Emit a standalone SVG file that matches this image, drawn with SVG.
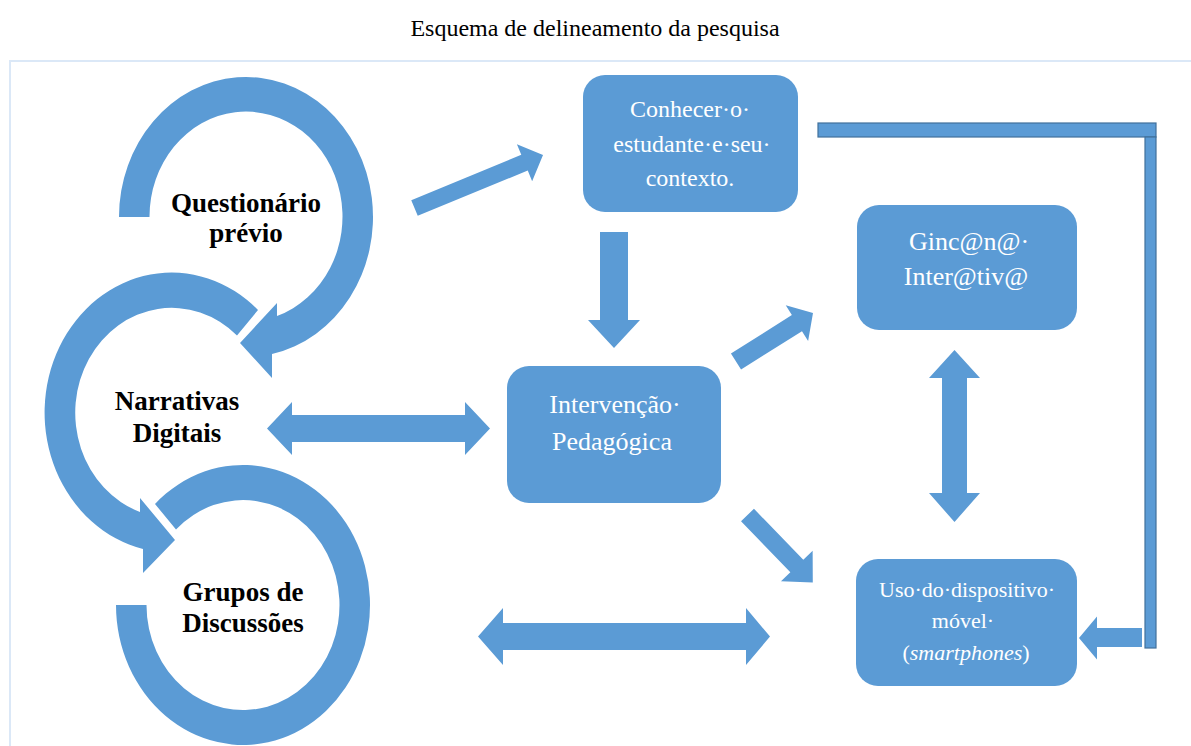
<svg xmlns="http://www.w3.org/2000/svg" width="1191" height="746" viewBox="0 0 1191 746">
<defs>
<style>
.fill{fill:#5b9bd5}
.bar{fill:#5b9bd5;stroke:#41719c;stroke-width:1.2}
.lbl{font-family:"Liberation Serif","Times New Roman",serif;font-weight:bold;font-size:27px;fill:#000;text-anchor:middle}
.box{font-family:"Liberation Serif","Times New Roman",serif;fill:#fff;text-anchor:middle}
.b26{font-size:26px}
.b24{font-size:24px}
.b22{font-size:22px}
.title{font-family:"Liberation Serif","Times New Roman",serif;font-size:24px;fill:#000;text-anchor:middle}
</style>
</defs>
<rect width="1191" height="746" fill="#fff"/>
<text class="title" x="595" y="36">Esquema de delineamento da pesquisa</text>
<rect x="10" y="61" width="1200" height="700" fill="none" stroke="#dbe8f7" stroke-width="2"/>

<g id="questionario">
<path class="fill" d="M119 217 A127 140 0 1 1 272 354 L272 378 L240 343 L277 303 L277 316 A96.5 105 0 1 0 149.5 217 Z"/>
<text class="lbl" x="246" y="212">Questionário</text>
<text class="lbl" x="246" y="242">prévio</text>
</g>
<g id="narrativas">
<path class="fill" d="M258 310 A127 140 0 1 0 143 549 L143 573 L175 540 L140 498 L140 512 A96.5 105 0 1 1 237 335.5 Z"/>
<text class="lbl" x="177" y="410">Narrativas</text>
<text class="lbl" x="177" y="442">Digitais</text>
</g>
<g id="grupos">
<path class="fill" d="M155 504 A127 140 0 1 1 116 605 L146.5 605 A96.5 105 0 1 0 176 529.5 Z"/>
<text class="lbl" x="243" y="601">Grupos de</text>
<text class="lbl" x="243" y="632">Discussões</text>
</g>

<g id="conhecer">
<rect class="fill" x="583" y="75" width="215" height="137" rx="22"/>
<text class="box b24" x="690" y="117">Conhecer·o·</text>
<text class="box b24" x="692" y="152">estudante·e·seu·</text>
<text class="box b24" x="690" y="186">contexto.</text>
</g>
<g id="gincana">
<rect class="fill" x="857" y="205" width="220" height="125" rx="22"/>
<text class="box b26" x="969" y="250">Ginc@n@·</text>
<text class="box b26" x="966" y="285">Inter@tiv@</text>
</g>
<g id="intervencao">
<rect class="fill" x="507" y="366" width="214" height="137" rx="22"/>
<text class="box b26" x="615" y="413">Intervenção·</text>
<text class="box b26" x="612" y="450">Pedagógica</text>
</g>
<g id="uso">
<rect class="fill" x="856" y="559" width="221" height="127" rx="22"/>
<text class="box b22" x="967" y="597">Uso·do·dispositivo·</text>
<text class="box b22" x="963" y="628">móvel·</text>
<text class="box b22" x="966" y="660">(<tspan font-style="italic">smartphones</tspan>)</text>
</g>

<g id="connectors">
<polygon class="fill" transform="translate(414.5,208) rotate(-22.4)" points="0,-8.5 119,-8.5 119,-20 139,0 119,20 119,8.5 0,8.5"/>
<polygon class="fill" transform="translate(614,232) rotate(90)" points="0,-14 88,-14 88,-26 116,0 88,26 88,14 0,14"/>
<polygon class="fill" transform="translate(736,361.5) rotate(-32.2)" points="0,-9.5 72,-9.5 72,-21 91,0 72,21 72,9.5 0,9.5"/>
<polygon class="fill" transform="translate(747.5,515) rotate(46)" points="0,-9 71,-9 71,-22 94,0 71,22 71,9 0,9"/>
<polygon class="fill" points="267,428.5 292,402 292,415 465,415 465,402 490,428.5 465,455 465,442 292,442 292,455"/>
<polygon class="fill" points="478,636.5 503,608 503,623 746,623 746,608 770,636.5 746,665 746,650 503,650 503,665"/>
<polygon class="fill" points="954.5,350 980,378 967,378 967,493 980,493 954.5,522 929,493 942,493 942,378 929,378"/>
<rect class="bar" x="818" y="123" width="338" height="14"/>
<rect class="bar" x="1145" y="137" width="11" height="511"/>
<polygon class="fill" points="1079,638 1097,616.5 1097,628 1142,628 1142,647 1097,647 1097,659.5"/>
</g>
</svg>
